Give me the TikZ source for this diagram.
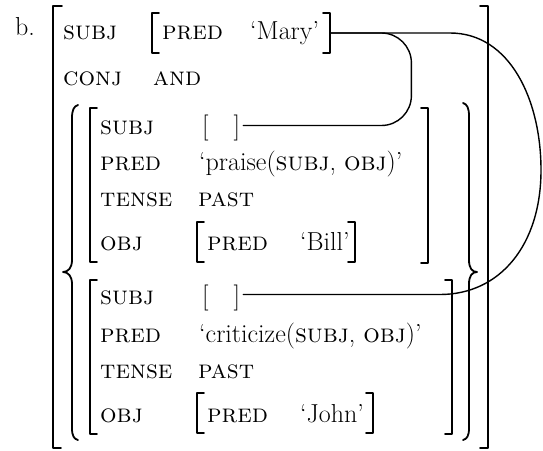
\documentclass[tikz,border=0pt]{standalone}
\begin{document}
\begin{tikzpicture}[x=1pt,y=-1pt,line join=round,line cap=round,
	font=\fontsize{26}{31}\selectfont,
	lab/.style={anchor=base west,inner sep=0pt},
	brk/.style={line width=1.8pt},
	lnk/.style={line width=1.4pt}]
	\useasboundingbox (0,0) rectangle (543,450);
	% so thu tu
	\node[lab] (num) at (15,35) {b.};
	% ngoac vuong ngoai cung
	\draw[brk] (62,6) -- (53,6) -- (53,448) -- (61,448);
	\draw[brk] (480,6) -- (488,6) -- (488,448) -- (480,448);
	% SUBJ va CONJ
	\node[lab] (subj) at (63,39) {\textsc{subj}};
	\node[lab] (conj) at (63,85) {\textsc{conj}};
	\node[lab] (and) at (153,85) {\textsc{and}};
	\draw[brk] (159,13) -- (152,13) -- (152,53) -- (159,53);
	\node[lab] (maryPred) at (162,39) {\textsc{pred}};
	\node[lab] (mary) at (250,39) {‘Mary’};
	\draw[brk] (323,13) -- (330,13) -- (330,53) -- (323,53);
	\coordinate (maryR) at (330,33);
	% ngoac nhon hai ben
	\draw[brk] (78,105) .. controls (74,106) and (72,110) .. (72,118) -- (72,260)
	.. controls (72,268) and (68,272) .. (63,272)
	.. controls (68,272) and (72,276) .. (72,284) -- (72,428)
	.. controls (72,436) and (74,439) .. (78,440);
	\draw[brk] (463,103) .. controls (467,104) and (469,108) .. (469,116) -- (469,260)
	.. controls (469,268) and (472,272) .. (477,272)
	.. controls (472,272) and (469,276) .. (469,284) -- (469,428)
	.. controls (469,436) and (467,439) .. (463,440);
	% khoi thu nhat
	\draw[brk] (97,108) -- (90,108) -- (90,262) -- (97,262);
	\draw[brk] (421,108) -- (428,108) -- (428,263) -- (421,263);
	\foreach \y/\t in {134/subj,170/pred,206/tense,250/obj}
	\node[lab] (a-\t) at (100,\y) {\textsc{\t}};
	\node[lab] (subjA) at (202,134) {[\hspace{25pt}]};
	\node[lab] (praise) at (199,170) {‘praise(\textsc{subj}, \textsc{obj})’};
	\node[lab] (pastA) at (198,206) {\textsc{past}};
	\draw[brk] (204,222) -- (197,222) -- (197,262) -- (204,262);
	\node[lab] (billPred) at (207,250) {\textsc{pred}};
	\node[lab] (bill) at (300,250) {‘Bill’};
	\draw[brk] (348,222) -- (355,222) -- (355,262) -- (348,262);
	% khoi thu hai
	\draw[brk] (97,280) -- (90,280) -- (90,434) -- (97,434);
	\draw[brk] (445,280) -- (452,280) -- (452,434) -- (445,434);
	\foreach \y/\t in {304/subj,342/pred,378/tense,422/obj}
	\node[lab] (b-\t) at (100,\y) {\textsc{\t}};
	\node[lab] (subjB) at (202,304) {[\hspace{25pt}]};
	\node[lab] (criticize) at (199,342) {‘criticize(\textsc{subj}, \textsc{obj})’};
	\node[lab] (pastB) at (198,378) {\textsc{past}};
	\draw[brk] (204,393) -- (197,393) -- (197,433) -- (204,433);
	\node[lab] (johnPred) at (207,422) {\textsc{pred}};
	\node[lab] (john) at (300,422) {‘John’};
	\draw[brk] (366,393) -- (373,393) -- (373,433) -- (366,433);
	% cac duong noi
	\coordinate (endA) at ([xshift=3pt,yshift=2pt]subjA.east);
	\coordinate (endB) at ([xshift=3pt,yshift=3pt]subjB.east);
	\draw[lnk,rounded corners=30pt] (maryR) -| ([xshift=168pt]endA) -- (endA);
	\coordinate (bendB) at (450,33);
	\coordinate (farB) at (541,170);
	\draw[lnk] (maryR) -- (bendB) .. controls (510,33) and (541,100) .. (farB)
	.. controls (541,245) and (500,0|-endB) .. (440,0|-endB) -- (endB);
\end{tikzpicture}
\end{document}
